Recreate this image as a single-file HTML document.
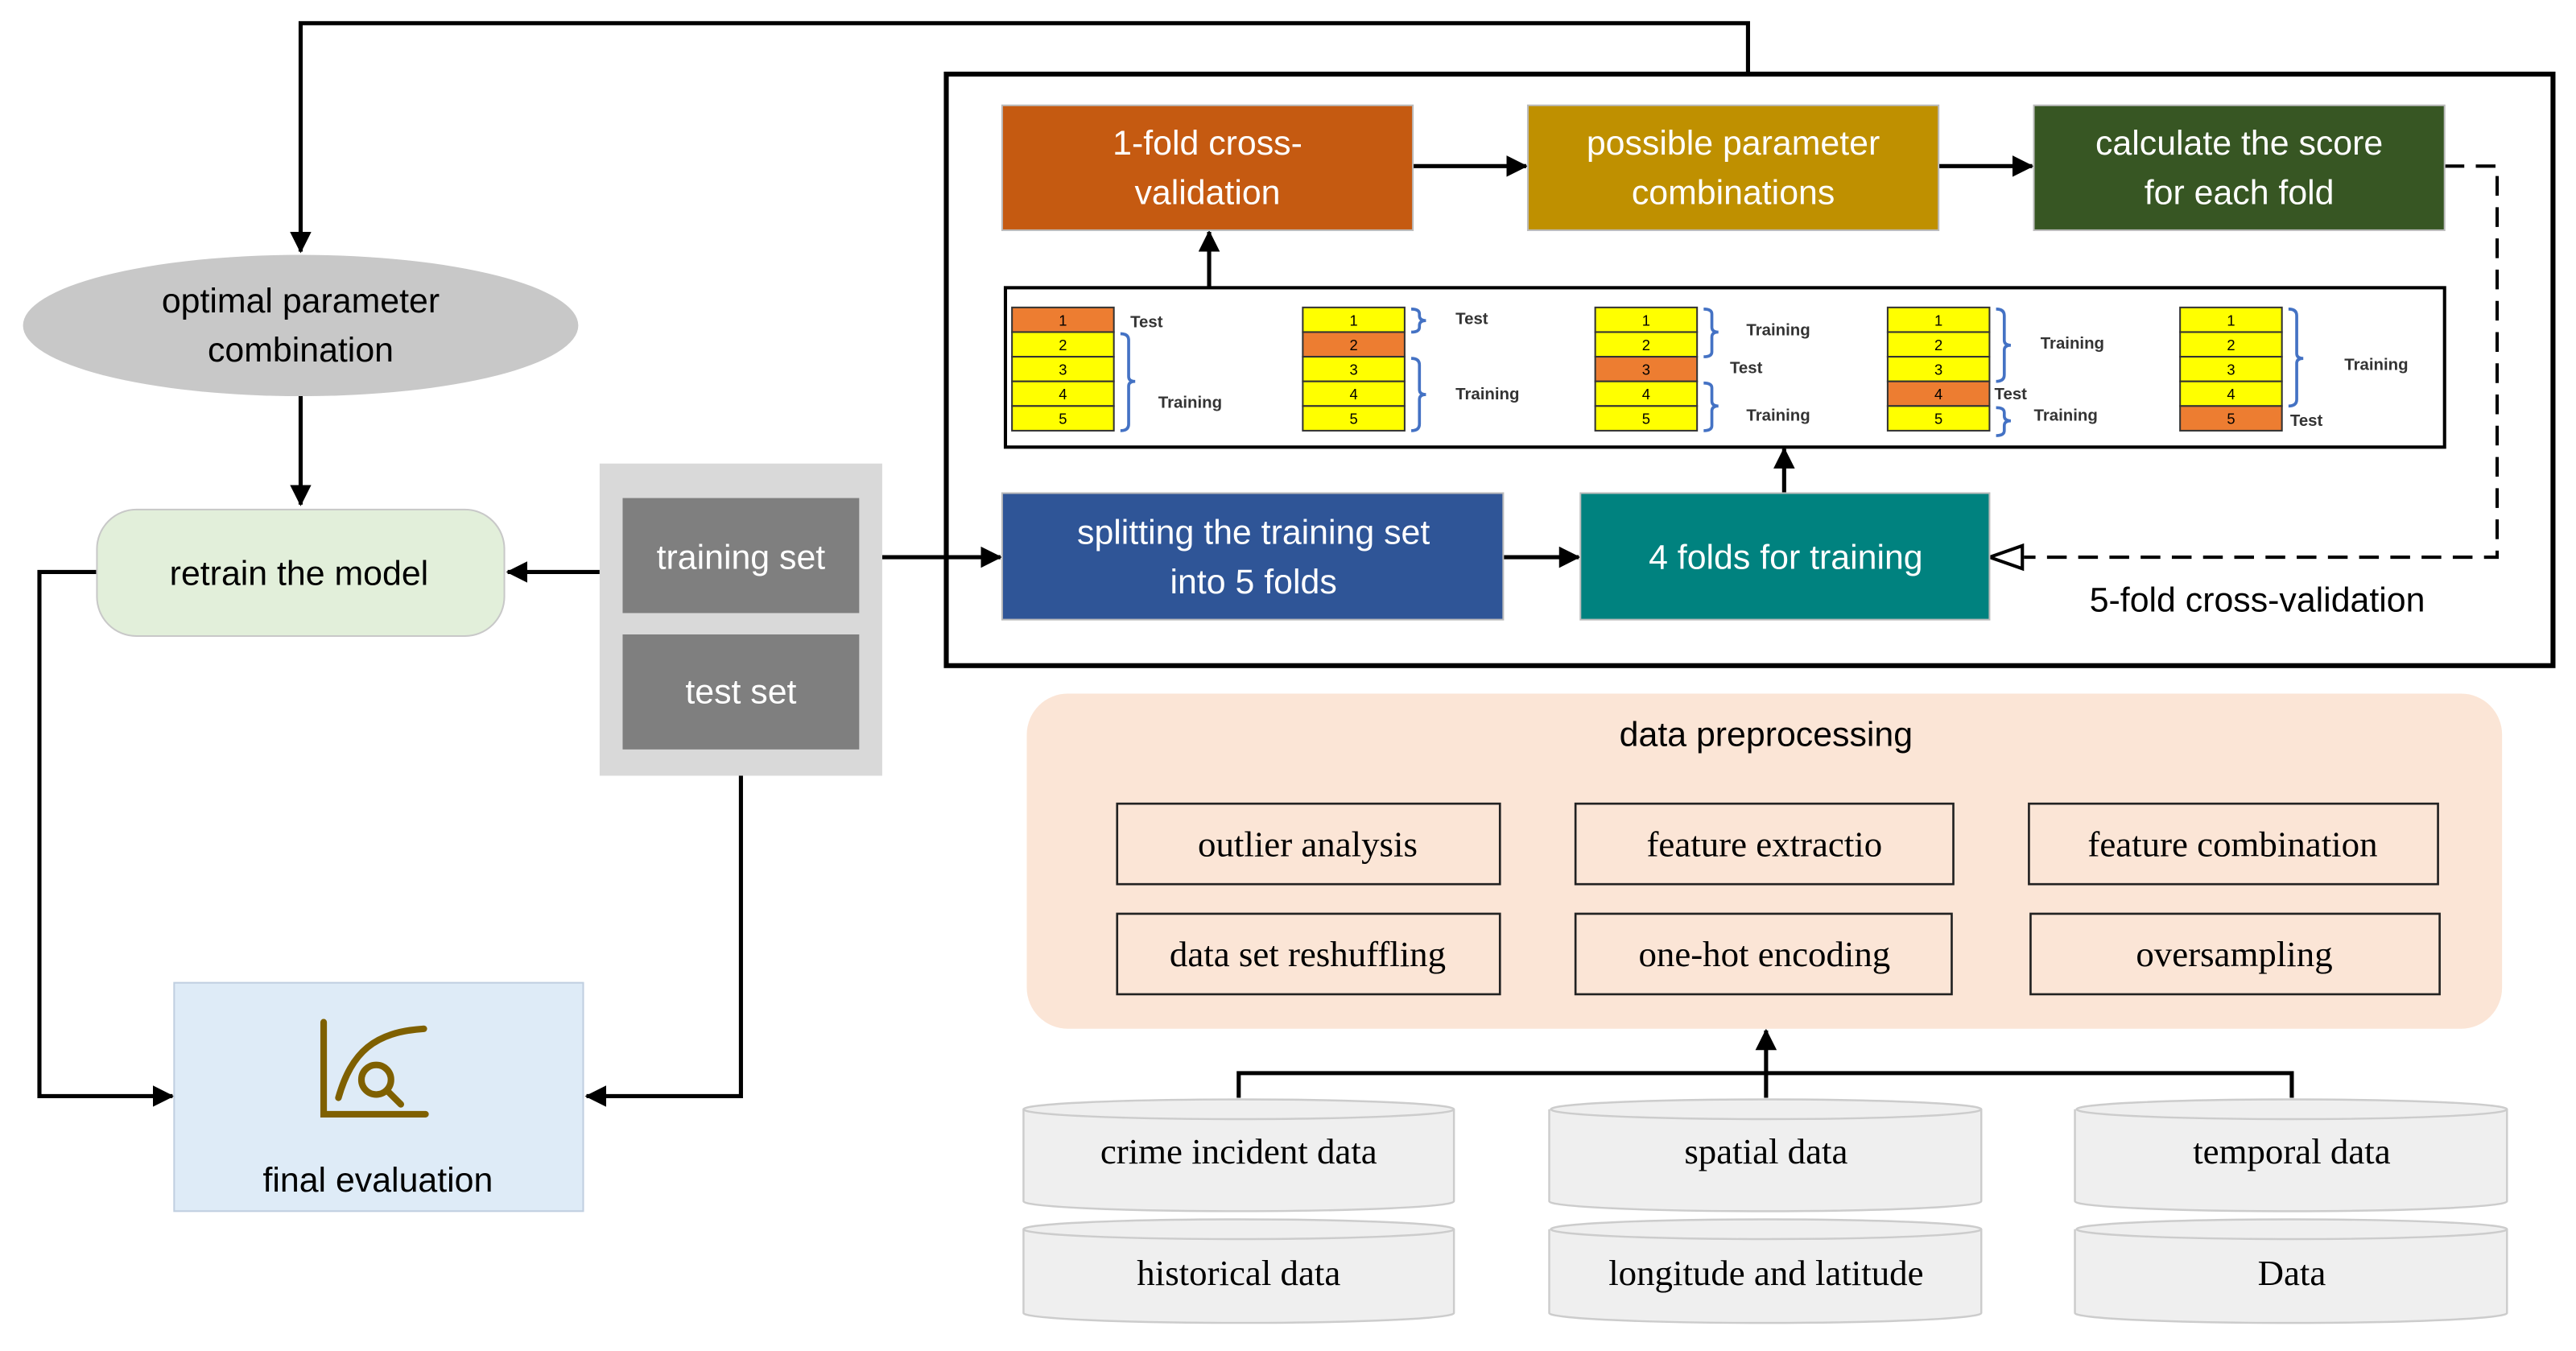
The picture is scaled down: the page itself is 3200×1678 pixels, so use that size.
<!DOCTYPE html>
<html><head><meta charset="utf-8"><style>
html,body{margin:0;padding:0;background:#fff}
svg{display:block}
.s{font-family:"Liberation Sans",sans-serif}
.r{font-family:"Liberation Serif",serif}
</style></head><body>
<svg width="3200" height="1678" viewBox="0 0 1568 822" xmlns="http://www.w3.org/2000/svg">
<defs>
<marker id="a" markerWidth="13" markerHeight="13" refX="12" refY="6.5" orient="auto" markerUnits="userSpaceOnUse" viewBox="0 0 13 13"><path d="M0,0 L13,6.5 L0,13 z" fill="#000"/></marker>
<marker id="b" markerWidth="22" markerHeight="22" refX="0" refY="8" orient="auto" markerUnits="userSpaceOnUse" viewBox="0 0 22 16"><path d="M1,1 L21,8 L1,15 z" fill="#fff" stroke="#000" stroke-width="2"/></marker>
</defs>
<g fill="none" stroke="#000" stroke-width="2.5">
<path d="M1064,45 V14 H183 V153" marker-end="url(#a)"/>
<path d="M183,241 V307" marker-end="url(#a)"/>
<path d="M365,348 H309" marker-end="url(#a)"/>
<path d="M59,348 H24 V667 H105" marker-end="url(#a)"/>
<path d="M451,456 V667 H357" marker-end="url(#a)"/>
<path d="M537,339 H609" marker-end="url(#a)"/>
<path d="M860,101 H929" marker-end="url(#a)"/>
<path d="M1180,101 H1237" marker-end="url(#a)"/>
<path d="M915,339 H961" marker-end="url(#a)"/>
<path d="M736,175 V141" marker-end="url(#a)"/>
<path d="M1086,300 V273" marker-end="url(#a)"/>
<path d="M1075,668 V627" marker-end="url(#a)"/>
<path d="M754,668 V653 H1395 V668"/>
</g>
<path d="M1488,101 H1520 V339 H1232" fill="none" stroke="#000" stroke-width="2" stroke-dasharray="12,7" marker-end="url(#b)"/>
<rect x="576" y="45" width="978" height="360" fill="none" stroke="#000" stroke-width="3"/>

<ellipse cx="183" cy="198" rx="169" ry="43" fill="#c8c8c8"/>
<text class="s" x="183" y="190" font-size="21" text-anchor="middle">optimal parameter</text>
<text class="s" x="183" y="220" font-size="21" text-anchor="middle">combination</text>
<rect x="59" y="310" width="248" height="77" rx="24" fill="#e2efda" stroke="#c8c8c8"/>
<text class="s" x="182" y="356" font-size="21" text-anchor="middle">retrain the model</text>
<rect x="365" y="282" width="172" height="190" fill="#d9d9d9"/>
<rect x="379" y="303" width="144" height="70" fill="#7f7f7f"/>
<rect x="379" y="386" width="144" height="70" fill="#7f7f7f"/>
<text class="s" x="451" y="346" font-size="21" fill="#fff" text-anchor="middle">training set</text>
<text class="s" x="451" y="428" font-size="21" fill="#fff" text-anchor="middle">test set</text>
<rect x="106" y="598" width="249" height="139" fill="#deebf7" stroke="#c0cfe0"/>
<g fill="none" stroke="#7f6000" stroke-width="4" stroke-linecap="round">
<path d="M197,622 V678 H259"/>
<path d="M206,668 C214,640 228,628 258,626"/>
<circle cx="229" cy="657" r="9"/>
<path d="M236,664 L244,672"/>
</g>
<text class="s" x="230" y="725" font-size="21" text-anchor="middle">final evaluation</text>

<rect x="610" y="64" width="250" height="76" fill="#c55a11" stroke="#bbb"/>
<rect x="930" y="64" width="250" height="76" fill="#bf9000" stroke="#bbb"/>
<rect x="1238" y="64" width="250" height="76" fill="#375623" stroke="#bbb"/>
<text class="s" font-size="21" fill="#fff" text-anchor="middle"><tspan x="735" y="94">1-fold cross-</tspan><tspan x="735" y="124">validation</tspan><tspan x="1055" y="94">possible parameter</tspan><tspan x="1055" y="124">combinations</tspan><tspan x="1363" y="94">calculate the score</tspan><tspan x="1363" y="124">for each fold</tspan></text>
<rect x="610" y="300" width="305" height="77" fill="#2f5597" stroke="#bbb"/>
<rect x="962" y="300" width="249" height="77" fill="#00827f" stroke="#bbb"/>
<text class="s" font-size="21" fill="#fff" text-anchor="middle"><tspan x="763" y="331">splitting the training set</tspan><tspan x="763" y="361">into 5 folds</tspan><tspan x="1087" y="346">4 folds for training</tspan></text>
<text class="s" x="1374" y="372" font-size="21" text-anchor="middle">5-fold cross-validation</text>

<rect x="612" y="175" width="876" height="97" fill="#fff" stroke="#000" stroke-width="2"/>
<g class="s" font-size="9" text-anchor="middle" stroke="#333" stroke-width="1">
<rect x="616" y="187" width="62" height="15" fill="#ed7d31"/><rect x="616" y="202" width="62" height="15" fill="#ff0"/><rect x="616" y="217" width="62" height="15" fill="#ff0"/><rect x="616" y="232" width="62" height="15" fill="#ff0"/><rect x="616" y="247" width="62" height="15" fill="#ff0"/>
<rect x="793" y="187" width="62" height="15" fill="#ff0"/><rect x="793" y="202" width="62" height="15" fill="#ed7d31"/><rect x="793" y="217" width="62" height="15" fill="#ff0"/><rect x="793" y="232" width="62" height="15" fill="#ff0"/><rect x="793" y="247" width="62" height="15" fill="#ff0"/>
<rect x="971" y="187" width="62" height="15" fill="#ff0"/><rect x="971" y="202" width="62" height="15" fill="#ff0"/><rect x="971" y="217" width="62" height="15" fill="#ed7d31"/><rect x="971" y="232" width="62" height="15" fill="#ff0"/><rect x="971" y="247" width="62" height="15" fill="#ff0"/>
<rect x="1149" y="187" width="62" height="15" fill="#ff0"/><rect x="1149" y="202" width="62" height="15" fill="#ff0"/><rect x="1149" y="217" width="62" height="15" fill="#ff0"/><rect x="1149" y="232" width="62" height="15" fill="#ed7d31"/><rect x="1149" y="247" width="62" height="15" fill="#ff0"/>
<rect x="1327" y="187" width="62" height="15" fill="#ff0"/><rect x="1327" y="202" width="62" height="15" fill="#ff0"/><rect x="1327" y="217" width="62" height="15" fill="#ff0"/><rect x="1327" y="232" width="62" height="15" fill="#ff0"/><rect x="1327" y="247" width="62" height="15" fill="#ed7d31"/>
</g>
<g class="s" font-size="9" text-anchor="middle">
<text x="647" y="198">1</text><text x="647" y="213">2</text><text x="647" y="228">3</text><text x="647" y="243">4</text><text x="647" y="258">5</text>
<text x="824" y="198">1</text><text x="824" y="213">2</text><text x="824" y="228">3</text><text x="824" y="243">4</text><text x="824" y="258">5</text>
<text x="1002" y="198">1</text><text x="1002" y="213">2</text><text x="1002" y="228">3</text><text x="1002" y="243">4</text><text x="1002" y="258">5</text>
<text x="1180" y="198">1</text><text x="1180" y="213">2</text><text x="1180" y="228">3</text><text x="1180" y="243">4</text><text x="1180" y="258">5</text>
<text x="1358" y="198">1</text><text x="1358" y="213">2</text><text x="1358" y="228">3</text><text x="1358" y="243">4</text><text x="1358" y="258">5</text>
</g>
<g fill="none" stroke="#4472c4" stroke-width="1.8">
<path d="M682,203 q5,0 5,4 V229 q0,3 4,3 q-4,0 -4,3 V258 q0,4 -5,4"/>
<path d="M859,188 q5,0 5,3 V192 q0,3 4,3 q-4,0 -4,3 V199 q0,3 -5,3"/>
<path d="M859,218 q5,0 5,4 V237 q0,3 4,3 q-4,0 -4,3 V258 q0,4 -5,4"/>
<path d="M1037,188 q5,0 5,3 V199 q0,3 4,3 q-4,0 -4,3 V214 q0,3 -5,3"/>
<path d="M1037,233 q5,0 5,3 V244 q0,3 4,3 q-4,0 -4,3 V259 q0,3 -5,3"/>
<path d="M1215,188 q5,0 5,4 V207 q0,3 4,3 q-4,0 -4,3 V228 q0,4 -5,4"/>
<path d="M1215,248 q5,0 5,3 V253 q0,3 4,3 q-4,0 -4,3 V262 q0,3 -5,3"/>
<path d="M1393,188 q5,0 5,4 V215 q0,3 4,3 q-4,0 -4,3 V243 q0,4 -5,4"/>
</g>
<g class="s" font-size="10" font-weight="bold" fill="#333">
<text x="688" y="199">Test</text><text x="705" y="248">Training</text>
<text x="886" y="197">Test</text><text x="886" y="243">Training</text>
<text x="1063" y="204">Training</text><text x="1053" y="227">Test</text><text x="1063" y="256">Training</text>
<text x="1242" y="212">Training</text><text x="1214" y="243">Test</text><text x="1238" y="256">Training</text>
<text x="1427" y="225">Training</text><text x="1394" y="259">Test</text>
</g>

<rect x="625" y="422" width="898" height="204" rx="25" fill="#fbe5d6"/>
<text class="s" x="1075" y="454" font-size="21" text-anchor="middle">data preprocessing</text>
<g fill="none" stroke="#222" stroke-width="1.3">
<rect x="680" y="489" width="233" height="49"/><rect x="959" y="489" width="230" height="49"/><rect x="1235" y="489" width="249" height="49"/>
<rect x="680" y="556" width="233" height="49"/><rect x="959" y="556" width="229" height="49"/><rect x="1236" y="556" width="249" height="49"/>
</g>
<g class="r" font-size="22" text-anchor="middle">
<text x="796" y="521">outlier analysis</text><text x="1074" y="521">feature extractio</text><text x="1359" y="521">feature combination</text>
<text x="796" y="588">data set reshuffling</text><text x="1074" y="588">one-hot encoding</text><text x="1360" y="588">oversampling</text>
</g>
<g fill="#efefef" stroke="#ccc" stroke-width="1.2">
<path d="M623,675 V731 A131,6 0 0 0 885,731 V675"/><ellipse cx="754" cy="675" rx="131" ry="6"/>
<path d="M943,675 V731 A131,6 0 0 0 1206,731 V675"/><ellipse cx="1075" cy="675" rx="131" ry="6"/>
<path d="M1263,675 V731 A131,6 0 0 0 1526,731 V675"/><ellipse cx="1395" cy="675" rx="131" ry="6"/>
<path d="M623,748 V799 A131,6 0 0 0 885,799 V748"/><ellipse cx="754" cy="748" rx="131" ry="6"/>
<path d="M943,748 V799 A131,6 0 0 0 1206,799 V748"/><ellipse cx="1075" cy="748" rx="131" ry="6"/>
<path d="M1263,748 V799 A131,6 0 0 0 1526,799 V748"/><ellipse cx="1395" cy="748" rx="131" ry="6"/>
</g>
<g class="r" font-size="22" text-anchor="middle">
<text x="754" y="708">crime incident data</text><text x="1075" y="708">spatial data</text><text x="1395" y="708">temporal data</text>
<text x="754" y="782">historical data</text><text x="1075" y="782">longitude and latitude</text><text x="1395" y="782">Data</text>
</g>
</svg>
</body></html>
